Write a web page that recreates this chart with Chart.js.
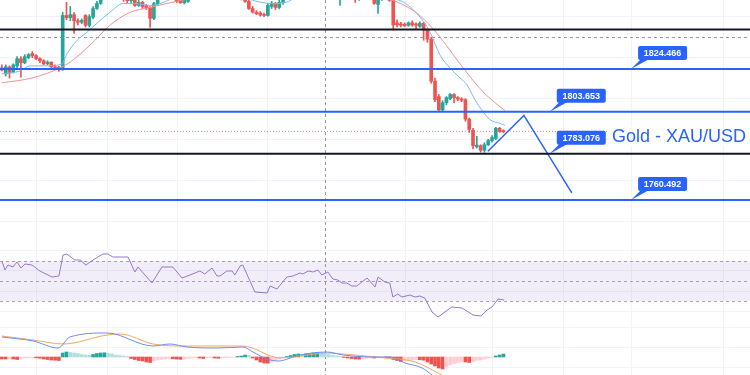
<!DOCTYPE html>
<html>
<head>
<meta charset="utf-8">
<script src="https://cdn.jsdelivr.net/npm/chart.js@4.4.0/dist/chart.umd.min.js"></script>
<style>
  html, body { margin: 0; padding: 0; background: #fff; }
  #wrap { position: relative; width: 750px; height: 375px; overflow: hidden; }
  canvas { position: absolute; left: 0; }
</style>
</head>
<body>
<div id="wrap">
  <canvas id="priceChart" width="750" height="240" style="top:0"></canvas>
  <canvas id="rsiChart" width="750" height="80" style="top:240px"></canvas>
  <canvas id="macdChart" width="750" height="55" style="top:320px"></canvas>
</div>
<script>
// candles, one entry per bar (bar index = position)
const opens = [
  1825.0, 1822.0, 1825.5, 1823.0, 1826.0, 1829.5, 1827.5, 1830.0, 1832.0, 1831.0,
  1829.5, 1828.5, 1827.0, 1827.8, 1825.5, 1825.3, 1824.3, 1850.6, 1849.5, 1851.0,
  1848.0, 1847.3, 1850.6, 1845.8, 1849.8, 1854.0, 1856.5, 1859.5, 1862.0, 1864.0,
  1861.0, 1863.5, 1860.5, 1859.0, 1857.8, 1859.0, 1855.5, 1857.0, 1855.5, 1854.5,
  1849.2, 1856.4, 1859.5, 1861.0, 1859.5, 1861.5, 1859.0, 1858.0, 1856.8, 1857.5,
  1860.0, 1862.5, 1865.0, 1863.0, 1866.0, 1864.0, 1867.0, 1865.5, 1863.5, 1865.0,
  1862.0, 1860.5, 1862.0, 1860.0, 1859.0, 1857.5, 1854.0, 1852.2, 1851.8, 1851.0,
  1850.6, 1855.0, 1856.5, 1854.5, 1857.0, 1861.0, 1863.5, 1866.0, 1864.5, 1867.0,
  1869.0, 1867.0, 1865.0, 1867.5, 1865.5, 1863.0, 1861.5, 1860.0, 1861.0, 1859.5,
  1862.0, 1864.0, 1861.5, 1859.5, 1858.5, 1861.0, 1863.0, 1861.0, 1859.0, 1856.0,
  1858.5, 1861.0, 1859.5, 1858.5, 1847.0, 1846.5, 1846.3, 1845.8, 1847.0, 1846.5,
  1845.3, 1846.8, 1843.5, 1839.0, 1818.5, 1811.0, 1804.5, 1808.0, 1810.0, 1812.0,
  1810.5, 1809.8, 1809.5, 1800.0, 1794.5, 1786.5, 1787.0, 1784.8, 1787.5, 1789.5,
  1790.5, 1795.5, 1794.2
];
const highs = [
  1826.5, 1826.5, 1826.0, 1827.0, 1830.5, 1830.5, 1831.5, 1832.0, 1833.0, 1831.5,
  1830.0, 1829.0, 1828.5, 1828.0, 1826.5, 1825.8, 1852.1, 1857.0, 1855.0, 1852.0,
  1849.0, 1849.0, 1851.0, 1851.0, 1855.0, 1857.5, 1861.0, 1864.0, 1866.0, 1865.0,
  1865.0, 1864.0, 1861.5, 1860.0, 1860.5, 1860.0, 1858.0, 1857.5, 1856.0, 1855.0,
  1857.0, 1860.5, 1862.5, 1862.0, 1863.0, 1862.0, 1859.5, 1858.5, 1859.0, 1861.0,
  1864.0, 1866.0, 1866.0, 1867.5, 1867.0, 1868.0, 1868.5, 1866.0, 1866.5, 1865.5,
  1863.0, 1863.0, 1862.5, 1861.0, 1859.5, 1858.0, 1855.0, 1853.0, 1852.5, 1851.8,
  1856.5, 1857.5, 1857.0, 1858.0, 1862.5, 1865.0, 1867.5, 1867.0, 1868.5, 1870.5,
  1870.0, 1868.0, 1868.5, 1868.0, 1866.0, 1864.0, 1862.0, 1862.0, 1862.0, 1863.0,
  1865.5, 1864.5, 1862.0, 1860.0, 1862.0, 1864.0, 1863.5, 1861.5, 1859.5, 1860.0,
  1862.0, 1862.0, 1860.0, 1859.0, 1848.5, 1847.3, 1847.0, 1847.5, 1848.0, 1847.0,
  1847.5, 1847.3, 1844.0, 1840.0, 1820.0, 1812.0, 1809.0, 1811.0, 1812.5, 1812.5,
  1811.0, 1810.5, 1810.0, 1800.5, 1795.5, 1791.6, 1787.5, 1788.5, 1790.2, 1792.0,
  1796.0, 1796.0, 1794.8
];
const lows = [
  1823.5, 1821.0, 1820.0, 1822.5, 1825.0, 1820.5, 1827.0, 1829.5, 1830.0, 1829.0,
  1827.5, 1826.5, 1826.5, 1825.0, 1824.5, 1823.3, 1823.8, 1848.5, 1848.0, 1841.9,
  1846.0, 1846.5, 1845.0, 1845.0, 1849.0, 1853.5, 1856.0, 1858.5, 1861.0, 1860.0,
  1860.5, 1859.5, 1857.5, 1856.5, 1856.8, 1855.0, 1855.0, 1854.0, 1853.5, 1844.8,
  1848.5, 1855.5, 1859.0, 1858.5, 1859.0, 1858.5, 1856.8, 1856.5, 1856.2, 1857.0,
  1859.5, 1862.0, 1862.0, 1862.5, 1863.0, 1863.5, 1864.5, 1862.5, 1862.5, 1861.0,
  1859.5, 1859.5, 1859.0, 1858.2, 1857.0, 1853.5, 1851.8, 1851.0, 1850.3, 1850.0,
  1850.3, 1854.0, 1853.5, 1853.8, 1856.0, 1860.0, 1863.0, 1863.5, 1864.0, 1866.0,
  1866.0, 1864.0, 1864.5, 1864.5, 1862.0, 1860.5, 1859.0, 1858.5, 1858.5, 1855.5,
  1861.0, 1860.5, 1858.5, 1857.0, 1858.0, 1860.0, 1860.0, 1858.5, 1856.0, 1851.6,
  1858.0, 1858.5, 1857.5, 1843.5, 1845.0, 1845.0, 1845.2, 1845.3, 1845.3, 1844.0,
  1844.8, 1838.5, 1837.5, 1817.5, 1808.5, 1803.7, 1804.0, 1807.0, 1809.5, 1808.0,
  1809.0, 1808.5, 1799.0, 1793.5, 1785.5, 1785.8, 1783.9, 1783.8, 1787.0, 1788.8,
  1790.0, 1793.5, 1793.3
];
const closes = [
  1824.0, 1825.5, 1822.5, 1826.5, 1829.5, 1827.5, 1830.5, 1831.5, 1831.0, 1829.5,
  1828.5, 1827.0, 1827.8, 1825.5, 1825.0, 1824.3, 1850.6, 1849.5, 1851.0, 1848.0,
  1847.3, 1848.2, 1845.8, 1850.0, 1854.0, 1856.5, 1859.5, 1862.0, 1864.0, 1861.0,
  1863.5, 1860.5, 1859.0, 1857.8, 1859.0, 1855.5, 1857.0, 1855.0, 1854.5, 1849.2,
  1856.4, 1859.5, 1861.0, 1859.5, 1861.5, 1859.0, 1857.5, 1856.8, 1858.0, 1860.0,
  1862.5, 1865.0, 1863.0, 1866.0, 1864.0, 1867.0, 1865.5, 1863.5, 1865.0, 1862.0,
  1860.5, 1862.0, 1860.0, 1859.0, 1857.5, 1854.0, 1852.2, 1851.5, 1850.8, 1850.6,
  1855.5, 1856.5, 1854.5, 1857.0, 1861.0, 1863.5, 1866.0, 1864.5, 1867.0, 1869.0,
  1867.0, 1865.0, 1867.5, 1865.5, 1863.0, 1861.5, 1860.0, 1861.0, 1859.5, 1862.0,
  1864.0, 1861.5, 1859.5, 1858.5, 1861.0, 1863.0, 1861.0, 1859.0, 1856.5, 1858.5,
  1861.0, 1859.5, 1858.0, 1846.0, 1846.0, 1845.8, 1845.6, 1847.0, 1846.0, 1845.8,
  1846.8, 1843.5, 1839.0, 1818.5, 1809.5, 1804.5, 1808.0, 1810.5, 1812.0, 1810.5,
  1809.8, 1809.2, 1800.0, 1795.0, 1787.0, 1787.3, 1784.8, 1787.5, 1789.5, 1791.0,
  1795.5, 1794.0, 1793.9
];

// moving averages at a few bars
const maFastBars = [0, 4.8, 7.4, 11.3, 15.8, 17.1, 19.8, 22.4, 25, 28.4, 31.9, 35, 39, 41.6, 45.6, 52, 58.7, 65.3, 71, 74.5, 78.5, 86.3, 94.2, 100.8, 104.8, 109.2, 112.7, 115.3, 117.9, 120.6, 122.4, 124.5, 126.6, 128.4, 131.1, 132.4];
const maFast = [1822.1, 1823.5, 1826.0, 1826.0, 1826.9, 1831.8, 1838.5, 1842.4, 1846.8, 1852.1, 1856.4, 1856.4, 1855.5, 1856.4, 1859.4, 1862.7, 1862.7, 1858.4, 1856.4, 1856.9, 1860.3, 1862.7, 1860.3, 1858.9, 1857.9, 1851.6, 1842.4, 1831.3, 1825.0, 1820.1, 1816.8, 1809.5, 1803.7, 1799.8, 1797.9, 1796.9];
const maSlowBars = [0, 8.2, 15.3, 18, 23.2, 28.4, 33.7, 39, 46.9, 52, 60, 68, 75.8, 86, 96.9, 103, 107.4, 110, 114.5, 117.9, 122.4, 126.6, 129.8, 132.4];
const maSlow = [1817.7, 1820.2, 1825.0, 1827.9, 1836.1, 1845.8, 1852.1, 1854.5, 1857.9, 1859.4, 1860.8, 1859.8, 1860.3, 1861.8, 1860.8, 1857.9, 1854.0, 1850.6, 1841.9, 1833.7, 1822.6, 1813.4, 1808.0, 1804.2];

// drawn levels
const blueLevels = [1824.466, 1803.653, 1760.492];
const blackLevels = [1843.8, 1783.076];
const lastPrice = 1794.0;
const tagPrices = [1824.466, 1803.653, 1783.076, 1760.492];
const tagBars = [165.6, 144.2, 144.2, 165.6];
const zigzagBars = [127.9, 137.4, 150];
const zigzagPrices = [1784.3, 1801.8, 1764.0];
const titleText = 'Gold - XAU/USD';
const titleBar = 160.6, titlePrice = 1788.8;

// RSI
const rsiBars = [0, 0.8, 1.6, 2.9, 4, 5, 6.1, 7.9, 10, 13.2, 15, 16.1, 17.1, 19.2, 20.6, 22.1, 24, 26.6, 27.9, 29.2, 33.2, 35, 35.8, 39.5, 42.1, 45, 47.4, 49.5, 52.1, 53.4, 55.3, 56.6, 57.4, 59.2, 60.6, 61.3, 62.7, 63.4, 66.6, 69.8, 70.6, 72.4, 75, 76.6, 78.4, 79.2, 80.6, 81.9, 83.2, 84.2, 85.8, 87.1, 88.4, 89.5, 90.8, 92.1, 93.4, 96.1, 98.2, 99, 100.8, 102.1, 102.9, 104.2, 105.3, 107.4, 108.7, 110, 111.3, 113.2, 114.8, 118.4, 121.1, 124, 126.1, 127.7, 129, 130.6, 132.2];
const rsiValues = [70, 61, 66, 64, 69, 63, 67, 66, 60, 54, 55, 76, 77, 71, 71, 66, 71, 77, 77, 74, 74, 59, 64, 48, 64, 64, 53, 56, 60, 57, 63, 55, 55, 60, 60, 56, 65, 66, 39, 38, 45, 42, 54, 55, 58, 57, 60, 59, 61, 56, 59, 52, 51, 48, 48, 45, 45, 53, 44, 54, 49, 48, 34, 37, 34, 36, 34, 35, 33, 19, 14, 24, 23, 16, 15, 21, 24, 32, 31];
const rsiLevels = [70, 50, 30];

// MACD
const macdBars = [0, 8.2, 14.8, 17.9, 27.7, 39.8, 44.2, 48.7, 56.6, 63.4, 66.1, 69.8, 72.7, 78.4, 85.6, 89.8, 98.2, 102.1, 106.1, 110.6, 113.2, 116.6, 123.2, 132.4];
const macdValues = [20, 16, 9, 20, 24, 11, 13, 10, 9, 10, 5, -2, -4, 2, 5, 2, 0, 0, -6, -11, -18, -28, -45, -48];
const signalBars = [0, 8.2, 16.1, 27.7, 31.1, 39.8, 48.7, 63.4, 73.2, 78.4, 85.6, 89.8, 98.2, 108.7, 115.8, 123.2, 132.4];
const signalValues = [21, 17, 13, 22, 23, 13, 11, 11, -1, 1, 4, 3, 0, -5, -18, -33, -45];
const histValues = [
  -2, -2, -1.5, -2, -2.5, -1.5, -1, -0.8, -0.6, -0.8, -1.2, -2, -2.5, -3, -3.2, -3.5,
  4, 5, 4.5, 4, 3.5, 2.5, 2, 1.8, 2.5, 3.5, 4, 4.2,
  3.5, 3, 2, 1.5, 1, 0.5,
  -1.5, -2.5, -3.5, -4, -5, -5.5, -4, -3, -2.5, -2, -1.5, -1.8,
  -2, -2.3, -2, -1.5, -1, -0.8, -1, -1.5, -1, -0.7, -1, -1.3, -1, -0.8, -0.5, -0.3, 0.5, 1,
  2, 1.5, -1, -3, -5, -6, -6.2, -5, -3.5, -2, -1, 0.5,
  1.5, 2.5, 3, 2.5, 3, 3.5, 4, 4.5, 4.2, 3.5, 2.5, 1.5, 1, 0.5,
  -0.5, -1, -1.5, -2, -2.2, -2, -1.5, -1, -1, -0.8, -0.5, -0.8, -1,
  -2.5, -3.5, -4.5, -4, -3.5, -3, -2.5, -2.8, -3.2, -5, -7, -9, -11, -12, -10, -8, -6.5, -5.5, -4.5, -5, -5.5, -4.5, -3.5, -3, -2, -1, -0.5, 1, 2, 3
];

// grid and crosshair
const gridBars = [9, 27.7, 46.1, 69.8, 106.1, 129.2, 147.7, 165.8, 189.8];
const priceGrid = [1750, 1770, 1790, 1810, 1830, 1850];
const rsiGrid = [20, 40, 60, 80];
const macdGrid = [30, 10, -10];
const crossBar = 85, crossPrice = 1840;

const GREEN = '#26a69a', RED = '#ef5350';
const LEVEL_BLUE = '#2962ff';
const GRID = '#f0f3fa';
const X_MIN = -0.5, X_MAX = 196.9;

const bars = closes.map((c, i) => i);
const candleColors = bars.map(i => closes[i] >= opens[i] ? GREEN : RED);
const toPoints = (xs, ys) => xs.map((x, i) => ({ x: x, y: ys[i] }));

function xAxis() {
  return {
    type: 'linear', min: X_MIN, max: X_MAX, offset: false,
    ticks: { display: false },
    border: { display: false },
    grid: { color: GRID, drawTicks: false, offset: false },
    afterBuildTicks: axis => { axis.ticks = gridBars.map(v => ({ value: v })); }
  };
}
function yAxis(min, max, grid) {
  return {
    min: min, max: max,
    ticks: { display: false },
    border: { display: false },
    grid: { color: GRID, drawTicks: false },
    afterBuildTicks: axis => { axis.ticks = grid.map(v => ({ value: v })); }
  };
}
function flatLine(price, color, width, dash, order) {
  return {
    type: 'line', data: [{ x: X_MIN, y: price }, { x: X_MAX, y: price }],
    borderColor: color, borderWidth: width, borderDash: dash || [],
    pointRadius: 0, order: order
  };
}
function baseOptions(yScale, crosshair) {
  return {
    responsive: false, animation: false, devicePixelRatio: 1, events: [],
    layout: { padding: 0 },
    plugins: { legend: { display: false }, tooltip: { enabled: false }, crosshair: crosshair },
    scales: { x: xAxis(), y: yScale }
  };
}

// dashed crosshair (vertical in every pane, horizontal in price pane)
const crosshairPlugin = {
  id: 'crosshair',
  beforeDatasetsDraw(chart, args, opts) {
    const { ctx, chartArea: a, scales: { x, y } } = chart;
    ctx.save();
    ctx.strokeStyle = '#9598a1';
    ctx.lineWidth = 1;
    ctx.setLineDash([3, 3]);
    const px = Math.round(x.getPixelForValue(opts.bar)) + 0.5;
    ctx.beginPath(); ctx.moveTo(px, a.top); ctx.lineTo(px, a.bottom); ctx.stroke();
    if (opts.price != null) {
      const py = Math.round(y.getPixelForValue(opts.price)) + 0.5;
      ctx.beginPath(); ctx.moveTo(a.left, py); ctx.lineTo(a.right, py); ctx.stroke();
    }
    ctx.restore();
  }
};

// price tags and title
const tagPlugin = {
  id: 'tags',
  afterDatasetsDraw(chart) {
    const { ctx, scales: { x, y } } = chart;
    ctx.save();
    tagPrices.forEach((p, k) => {
      const tx = x.getPixelForValue(tagBars[k]);
      const ty = y.getPixelForValue(p);
      const bw = 49, bh = 14;
      const bx = tx + 7, by = ty - 9 - bh;
      ctx.fillStyle = LEVEL_BLUE;
      ctx.beginPath();
      ctx.roundRect(bx, by, bw, bh, 2);
      ctx.fill();
      ctx.beginPath();
      ctx.moveTo(bx + 3, by + bh - 1);
      ctx.lineTo(bx + 11, by + bh - 1);
      ctx.lineTo(tx, ty);
      ctx.closePath();
      ctx.fill();
      ctx.fillStyle = '#ffffff';
      ctx.font = 'bold 9px "Liberation Sans", Arial, sans-serif';
      ctx.textAlign = 'center';
      ctx.textBaseline = 'middle';
      ctx.fillText(p.toFixed(3), bx + bw / 2, by + bh / 2 + 0.5);
    });
    const gx = x.getPixelForValue(titleBar), gy = y.getPixelForValue(titlePrice);
    ctx.font = '18px "Liberation Sans", Arial, sans-serif';
    ctx.textAlign = 'left';
    ctx.textBaseline = 'alphabetic';
    const w = ctx.measureText(titleText).width;
    ctx.fillStyle = '#ffffff';
    ctx.fillRect(gx - 3, gy - 15, w + 6, 19);
    ctx.fillStyle = LEVEL_BLUE;
    ctx.fillText(titleText, gx, gy);
    ctx.restore();
  }
};

new Chart(document.getElementById('priceChart'), {
  data: {
    datasets: [
      ...blueLevels.map(p => flatLine(p, LEVEL_BLUE, 2, null, 0)),
      ...blackLevels.map(p => flatLine(p, '#131722', 2, null, 0)),
      flatLine(lastPrice, 'rgba(239, 83, 80, 0.7)', 1, [1, 2], 5),
      {
        type: 'line', data: toPoints(zigzagBars, zigzagPrices),
        borderColor: LEVEL_BLUE, borderWidth: 1.5, pointRadius: 0, order: 0
      },
      {
        type: 'line', data: toPoints(maFastBars, maFast),
        borderColor: '#7cb9f2', borderWidth: 1, pointRadius: 0,
        cubicInterpolationMode: 'monotone', order: 1
      },
      {
        type: 'line', data: toPoints(maSlowBars, maSlow),
        borderColor: '#f4908c', borderWidth: 1, pointRadius: 0,
        cubicInterpolationMode: 'monotone', order: 1
      },
      {
        type: 'bar', data: bars.map(i => ({ x: i, y: [opens[i], closes[i]] })),
        backgroundColor: candleColors, barThickness: 3, minBarLength: 1,
        grouped: false, order: 2
      },
      {
        type: 'bar', data: bars.map(i => ({ x: i, y: [lows[i], highs[i]] })),
        backgroundColor: candleColors, barThickness: 1,
        grouped: false, order: 3
      }
    ]
  },
  options: baseOptions(yAxis(1740.97, 1858.16, priceGrid), { bar: crossBar, price: crossPrice }),
  plugins: [crosshairPlugin, tagPlugin]
});

// RSI band 30-70 with dashed guides
const rsiBandPlugin = {
  id: 'rsiBand',
  beforeDatasetsDraw(chart) {
    const { ctx, chartArea: a, scales: { y } } = chart;
    const top = y.getPixelForValue(rsiLevels[0]);
    const bot = y.getPixelForValue(rsiLevels[2]);
    ctx.save();
    ctx.fillStyle = 'rgba(126, 87, 194, 0.1)';
    ctx.fillRect(a.left, top, a.width, bot - top);
    ctx.strokeStyle = 'rgba(120, 123, 134, 0.65)';
    ctx.lineWidth = 1;
    ctx.setLineDash([3, 3]);
    rsiLevels.forEach(v => {
      const py = Math.round(y.getPixelForValue(v)) + 0.5;
      ctx.beginPath(); ctx.moveTo(a.left, py); ctx.lineTo(a.right, py); ctx.stroke();
    });
    ctx.restore();
  }
};

new Chart(document.getElementById('rsiChart'), {
  data: {
    datasets: [{
      type: 'line', data: toPoints(rsiBars, rsiValues),
      borderColor: '#9277d3', borderWidth: 1, pointRadius: 0, tension: 0
    }]
  },
  options: baseOptions(yAxis(11, 91, rsiGrid), { bar: crossBar }),
  plugins: [rsiBandPlugin, crosshairPlugin]
});

// MACD histogram colours follow sign and direction
const histColors = histValues.map((v, i) => {
  const prev = i > 0 ? histValues[i - 1] : v;
  if (v >= 0) return v >= prev ? '#26a69a' : '#b2dfdb';
  return v <= prev ? '#ef5350' : '#ffcdd2';
});

new Chart(document.getElementById('macdChart'), {
  data: {
    datasets: [
      {
        type: 'line', data: toPoints(macdBars, macdValues),
        borderColor: '#6d8cf5', borderWidth: 1, pointRadius: 0,
        cubicInterpolationMode: 'monotone', order: 0
      },
      {
        type: 'line', data: toPoints(signalBars, signalValues),
        borderColor: '#f6a65e', borderWidth: 1, pointRadius: 0,
        cubicInterpolationMode: 'monotone', order: 0
      },
      {
        type: 'bar', data: bars.map(i => ({ x: i, y: histValues[i] })),
        backgroundColor: histColors, barThickness: 3, grouped: false, order: 1
      }
    ]
  },
  options: baseOptions(yAxis(-18, 37, macdGrid), { bar: crossBar }),
  plugins: [crosshairPlugin]
});
</script>
</body>
</html>
